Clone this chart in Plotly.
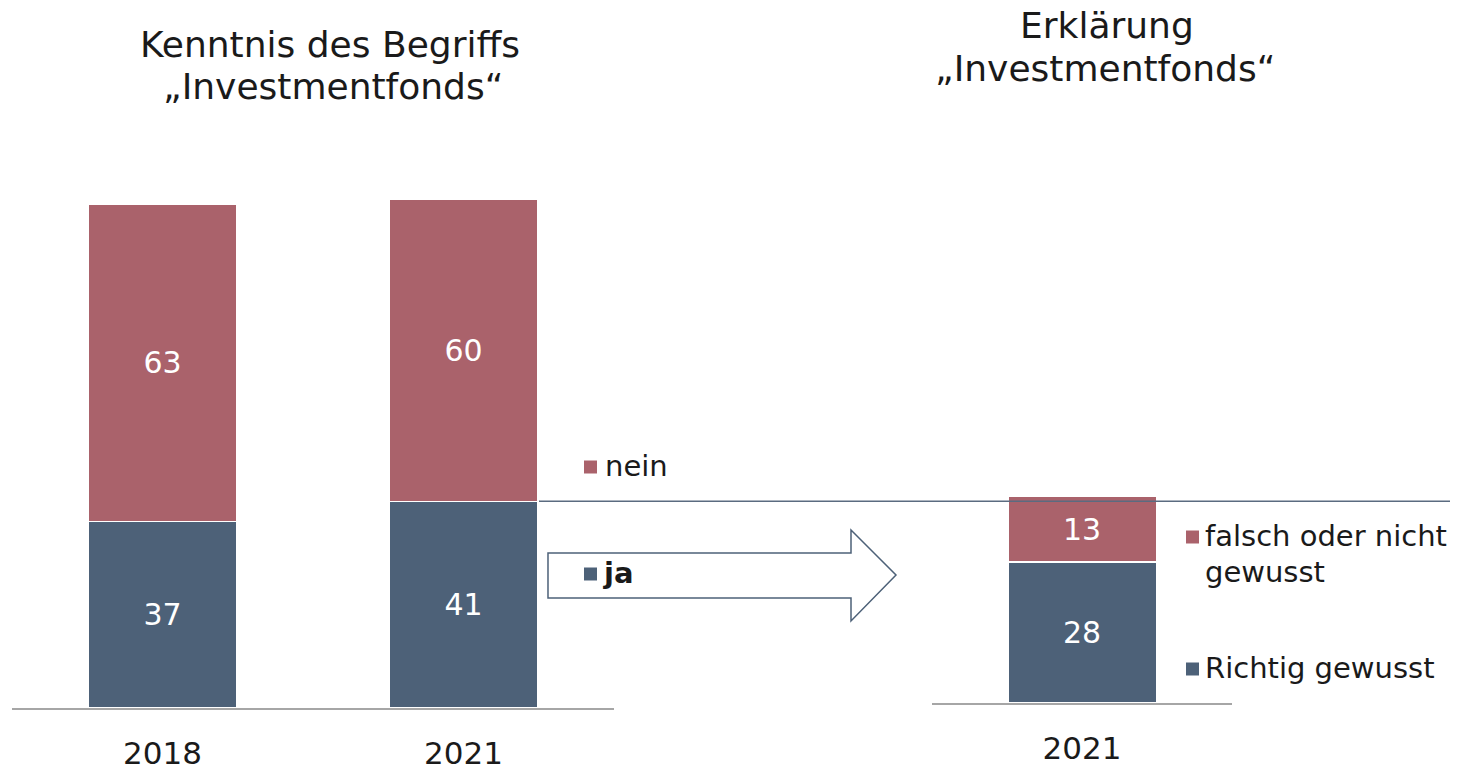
import plotly.graph_objects as go

# ── Data ──────────────────────────────────────────────────────
years_left = ["2018", "2021"]
ja_values = [37, 41]
nein_values = [63, 60]

years_right = ["2021"]
richtig_values = [28]
falsch_values = [13]

COL_RED = "#aa626b"
COL_BLUE = "#4d6178"
COL_TEXT = "#1a1a1a"
FONT = "DejaVu Sans"

# page body adds an 8px margin -> figure is shifted, sized to fill the window
OFF = 8
W, H = 1458 - OFF, 766 - OFF
PX_PER_UNIT = 5.04
Y_MAX = 110


def px_x(x):
    return (x - OFF) / W


def px_y(y):
    return (H - (y - OFF)) / H


fig = go.Figure()


def add_segment(x, y, name, color, xa, ya):
    fig.add_trace(go.Bar(
        x=x, y=y, name=name,
        marker=dict(color=color, line=dict(color="white", width=1.5)),
        text=y, textposition="inside", insidetextanchor="middle",
        textfont=dict(color="white", size=30, family=FONT),
        xaxis=xa, yaxis=ya, showlegend=False,
    ))


# ── Left chart: Kenntnis ──────────────────────────────────────
add_segment(years_left, ja_values, "ja", COL_BLUE, "x", "y")
add_segment(years_left, nein_values, "nein", COL_RED, "x", "y")

# ── Right chart: Erklärung ────────────────────────────────────
add_segment(years_right, richtig_values, "Richtig gewusst", COL_BLUE, "x2", "y2")
add_segment(years_right, falsch_values, "falsch oder nicht gewusst", COL_RED, "x2", "y2")

left_base, right_base = 708, 703
left_top = left_base - Y_MAX * PX_PER_UNIT
right_top = right_base - Y_MAX * PX_PER_UNIT

xaxis_common = dict(
    showline=True, linecolor="#a6a6a6", linewidth=1.5,
    ticks="", showgrid=False, zeroline=False, automargin=False,
    tickfont=dict(size=31, color=COL_TEXT, family=FONT),
    ticklabelstandoff=17, fixedrange=True,
)
yaxis_common = dict(visible=False, range=[0, Y_MAX], fixedrange=True, automargin=False)

fig.update_layout(
    barmode="stack",
    bargap=0.505,
    width=W, height=H, autosize=False,
    margin=dict(l=0, r=0, t=0, b=0, pad=0),
    paper_bgcolor="white", plot_bgcolor="white",
    font=dict(family=FONT, color=COL_TEXT),
    xaxis=dict(domain=[px_x(12), px_x(614)], range=[-0.5, 1.5], anchor="y", **xaxis_common),
    yaxis=dict(domain=[px_y(left_base), px_y(left_top)], anchor="x", **yaxis_common),
    xaxis2=dict(domain=[px_x(932), px_x(1232)], range=[-0.5, 0.5], anchor="y2", **xaxis_common),
    yaxis2=dict(domain=[px_y(right_base), px_y(right_top)], anchor="x2", **yaxis_common),
)

# ── Connector line at top of "ja" 2021 ───────────────────────
fig.add_shape(type="line", xref="paper", yref="y",
              x0=px_x(539), x1=1, y0=ja_values[1], y1=ja_values[1],
              line=dict(color="#5a6b80", width=1.5))

# ── Arrow ─────────────────────────────────────────────────────
pts = [(548, 553), (851, 553), (851, 530), (896, 575), (851, 621), (851, 598), (548, 598)]
path = "M " + " L ".join(f"{px_x(x):.5f},{px_y(y):.5f}" for x, y in pts) + " Z"
fig.add_shape(type="path", xref="paper", yref="paper", path=path,
              fillcolor="white", line=dict(color=COL_BLUE, width=1.5))


# ── Legend entries ────────────────────────────────────────────
def text_at(x, y, text, size, anchor="left"):
    fig.add_annotation(xref="paper", yref="paper", x=px_x(x), y=px_y(y),
                       text=text, showarrow=False, xanchor=anchor, yanchor="middle",
                       font=dict(size=size, color=COL_TEXT, family=FONT))


def legend_item(x_sq, y_c, color, text, x_text):
    fig.add_shape(type="rect", xref="paper", yref="paper",
                  x0=px_x(x_sq), x1=px_x(x_sq + 13),
                  y0=px_y(y_c + 6.5), y1=px_y(y_c - 6.5),
                  fillcolor=color, line=dict(width=0))
    text_at(x_text, y_c - 1, text, 29)


legend_item(584, 467, COL_RED, "nein", 603)
legend_item(584, 574, COL_BLUE, "<b>ja</b>", 601)
legend_item(1186, 537, COL_RED, "falsch oder nicht", 1203)
text_at(1203, 572, "gewusst", 29)
legend_item(1186, 669, COL_BLUE, "Richtig gewusst", 1203)

# ── Titles ────────────────────────────────────────────────────
text_at(330, 45, "Kenntnis des Begriffs", 36, "center")
text_at(333, 86, "„Investmentfonds“", 36, "center")
text_at(1107, 25, "Erklärung", 36, "center")
text_at(1105, 69, "„Investmentfonds“", 36, "center")

fig.write_html("out.html")
